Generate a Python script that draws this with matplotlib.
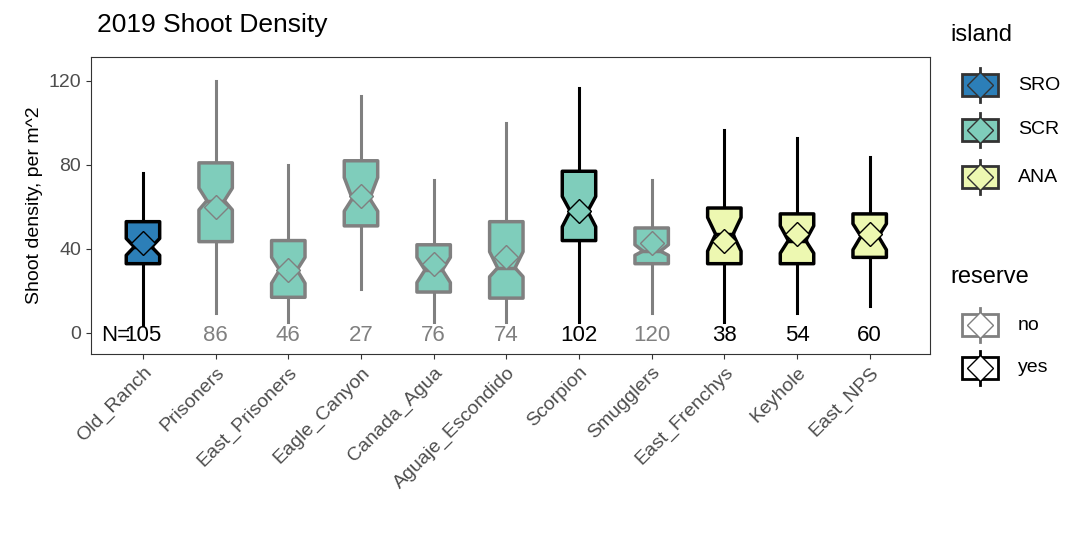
import numpy as np
import matplotlib.pyplot as plt
from matplotlib.patches import Polygon, Rectangle

plt.rcParams['font.family'] = ['Liberation Sans', 'DejaVu Sans']

sites = ["Old_Ranch", "Prisoners", "East_Prisoners", "Eagle_Canyon", "Canada_Agua",
         "Aguaje_Escondido", "Scorpion", "Smugglers", "East_Frenchys", "Keyhole", "East_NPS"]
island = ["SRO", "SCR", "SCR", "SCR", "SCR", "SCR", "SCR", "SCR", "ANA", "ANA", "ANA"]
reserve = ["yes", "no", "no", "no", "no", "no", "yes", "no", "yes", "yes", "yes"]
n_obs = [105, 86, 46, 27, 76, 74, 102, 120, 38, 54, 60]
wlo = [4, 9.5, 5, 21, 5, 5, 5, 9.5, 5, 9.5, 13]
q1 = [33, 43.5, 17, 51, 19.5, 16.6, 44, 33, 33, 33, 36]
med = [41, 63, 30, 64, 30, 31, 58, 39, 47, 44, 46]
q3 = [53, 81, 44, 82, 42, 53, 77, 50, 59.5, 56.7, 56.7]
whi = [76, 120, 80, 113, 73, 100, 116.5, 73, 96.7, 93, 84]
notch_lo = [37, 58.6, 23.7, 58, 24, 26.8, 50.6, 37, 39, 38, 39.6]
notch_hi = [45, 69, 36, 74, 36, 38.7, 65, 42, 55, 51, 52]
means = [43, 60, 30, 65, 33, 36, 58, 43, 44, 47, 47]

island_col = {"SRO": "#2C7FB8", "SCR": "#7FCDBB", "ANA": "#EDF8B1"}
reserve_col = {"no": "#808080", "yes": "#000000"}

fig = plt.figure(figsize=(10.76, 5.42), dpi=100)
W, H = 1076, 542
ax = fig.add_axes([91 / W, 1 - 354 / H, (930 - 91) / W, (354 - 57) / H])

hw = 0.23
nw = 0.12
for i in range(len(sites)):
    fc = island_col[island[i]]
    ec = reserve_col[reserve[i]]
    ax.plot([i, i], [wlo[i], q1[i]], color=ec, lw=2.2, zorder=2)
    ax.plot([i, i], [q3[i], whi[i]], color=ec, lw=2.2, zorder=2)
    pts = [(i - hw, q1[i]), (i + hw, q1[i]), (i + hw, notch_lo[i]), (i + nw, med[i]),
           (i + hw, notch_hi[i]), (i + hw, q3[i]), (i - hw, q3[i]), (i - hw, notch_hi[i]),
           (i - nw, med[i]), (i - hw, notch_lo[i])]
    ax.add_patch(Polygon(pts, closed=True, facecolor=fc, edgecolor=ec, lw=2.5, zorder=3,
                         joinstyle="round"))
    ax.plot([i - nw, i + nw], [med[i], med[i]], color=ec, lw=2.5, zorder=4)
    ax.plot(i, means[i], marker="D", markersize=12, markerfacecolor=fc,
            markeredgecolor=ec, markeredgewidth=1, zorder=5)
    ax.text(i, -1, str(n_obs[i]), ha="center", va="center", fontsize=16, color=ec, zorder=6)
ax.text(-0.38, -1, "N=", ha="center", va="center", fontsize=16, color="black", zorder=6)

ax.set_xlim(-0.715, 10.83)
ax.set_ylim(-10, 131.4)
ax.set_yticks([0, 40, 80, 120])
ax.set_xticks(range(len(sites)))
ax.set_xticklabels(sites, rotation=45, ha="right", rotation_mode="anchor", fontsize=14,
                   color="#4d4d4d")
ax.tick_params(axis="y", labelsize=14, labelcolor="#4d4d4d", color="#333333")
ax.tick_params(axis="x", color="#333333")
for s in ax.spines.values():
    s.set_color("#333333")
ax.set_ylabel("Shoot density, per m^2", fontsize=14)
fig.text(97 / W, 1 - 25 / H, "2019 Shoot Density", fontsize=19, va="center")

# legends
lg = fig.add_axes([0, 0, 1, 1])
lg.set_xlim(0, W)
lg.set_ylim(H, 0)
lg.axis("off")


def key(y, fc, ec):
    lg.plot([980, 980], [y - 17, y + 17], color=ec, lw=2, zorder=1)
    lg.add_patch(Rectangle((962, y - 11), 36, 22, facecolor=fc, edgecolor=ec, lw=2, zorder=2))
    lg.plot(980, y, marker="D", markersize=13, markerfacecolor=fc, markeredgecolor=ec,
            markeredgewidth=1, zorder=3)


lg.text(950, 35, "island", fontsize=17, va="center")
for y, lab in zip([85, 130, 177], ["SRO", "SCR", "ANA"]):
    key(y, island_col[lab], "#333333")
    lg.text(1018, y, lab, fontsize=14, va="center")
lg.text(950, 277, "reserve", fontsize=17, va="center")
for y, lab in zip([325, 368], ["no", "yes"]):
    key(y, "white", reserve_col[lab])
    lg.text(1018, y, lab, fontsize=14, va="center")

fig.savefig("out.png", dpi=100)
